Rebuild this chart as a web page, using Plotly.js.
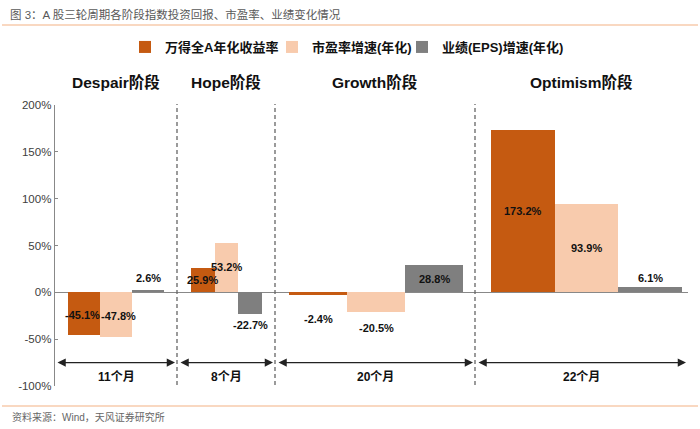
<!DOCTYPE html>
<html><head><meta charset="utf-8">
<script src="https://cdn.plot.ly/plotly-3.0.1.min.js"></script>
<style>html,body{margin:0;padding:0;background:#fff}</style>
</head><body><div id="chart" style="width:700px;height:429px"></div>
<script>
// ---------- data ----------
const phases = ['Despair阶段', 'Hope阶段', 'Growth阶段', 'Optimism阶段'];
const durations = ['11个月', '8个月', '20个月', '22个月'];
const seriesNames = ['万得全A年化收益率', '市盈率增速(年化)', '业绩(EPS)增速(年化)'];
const indexReturn = [-45.1, 25.9, -2.4, 173.2];
const peGrowth = [-47.8, 53.2, -20.5, 93.9];
const epsGrowth = [2.6, -22.7, 28.8, 6.1];
const yTickVals = [-100, -50, 0, 50, 100, 150, 200];
const yTickText = ['-100%', '-50%', '0%', '50%', '100%', '150%', '200%'];
const chartTitle = '图 3：A 股三轮周期各阶段指数投资回报、市盈率、业绩变化情况';
const sourceNote = '资料来源：Wind，天风证券研究所';

// ---------- layout / style ----------
const W = 700, H = 429, M = {l: 55, r: 12, t: 105, b: 43};
const bounds = [55, 177, 275, 475, 688];        // segment edges (x-axis units)
const groupCenter = [116, 226.5, 376, 586.5];
const barWidth = [32, 23.7, 58, 63.7];
const colors = ['#c55a11', '#f8cbad', '#7f7f7f'];
const labelAnchor = [['mid', 'mid', 'end', 'mid'], ['mid', 'mid', 'end', 'mid'], ['end', 'end', 'mid', 'end']];
const labelShift = [[-2, 0, -24.5, 0], [-1, 0, -16.5, 0], [12, -11.5, 0, 8.6]];
const labelXShift = [[-1.5, 0, 0, 0], [2, 0, 0, 0], [0, 0, 0, 0]];
const legendPx = [145, 292, 422];
const FONT = '"Liberation Sans", "Noto Sans CJK SC", Arial, sans-serif';

const pyToPaper = py => (H - M.b - py) / (H - M.t - M.b);
const pxToPaper = px => (px - M.l) / (W - M.l - M.r);

const series = [indexReturn, peGrowth, epsGrowth];
const legendIds = ['legend', 'legend2', 'legend3'];

const traces = series.map((vals, k) => ({
  type: 'bar',
  name: seriesNames[k],
  x: vals.map((v, i) => groupCenter[i] + (k - 1) * barWidth[i]),
  y: vals,
  width: barWidth,
  marker: {color: colors[k], line: {width: 0}},
  legend: legendIds[k],
  showlegend: true,
  hoverinfo: 'skip'
}));

const annotations = [];
// data labels
series.forEach((vals, k) => vals.forEach((v, i) => {
  annotations.push({
    x: groupCenter[i] + (k - 1) * barWidth[i], xref: 'x',
    y: labelAnchor[k][i] === 'mid' ? v / 2 : v, yref: 'y',
    yshift: labelShift[k][i], xshift: labelXShift[k][i],
    text: v.toFixed(1) + '%', showarrow: false,
    font: {family: FONT, size: 11, color: '#111', weight: 'bold'}
  });
}));
// phase titles, durations, arrows
phases.forEach((p, i) => {
  const cx = (bounds[i] + bounds[i + 1]) / 2;
  annotations.push({
    x: cx, xref: 'x', y: pyToPaper(82), yref: 'paper', yanchor: 'middle',
    text: p, showarrow: false,
    font: {family: FONT, size: 15.5, color: '#111', weight: 'bold'}
  });
  annotations.push({
    x: cx, xref: 'x', y: -90, yref: 'y', yanchor: 'middle',
    text: durations[i], showarrow: false,
    font: {family: FONT, size: 12, color: '#111', weight: 'bold'}
  });
  annotations.push({
    x: bounds[i + 1] - 2, y: -75, xref: 'x', yref: 'y',
    ax: bounds[i] + (i === 0 ? 1 : 2), ay: -75, axref: 'x', ayref: 'y',
    text: '', showarrow: true, arrowside: 'end+start',
    arrowhead: 2, startarrowhead: 2, arrowsize: 1.5, startarrowsize: 1.5,
    arrowwidth: 1.1, arrowcolor: '#222', standoff: 0, startstandoff: 0
  });
});
// source note
annotations.push({
  x: pxToPaper(10), xref: 'paper', xanchor: 'left',
  y: pyToPaper(417), yref: 'paper', yanchor: 'middle',
  text: sourceNote, showarrow: false,
  font: {family: FONT, size: 10, color: '#666'}
});

const shapes = [];
bounds.slice(1, 4).forEach(b => shapes.push({
  type: 'line', xref: 'x', x0: b, x1: b, yref: 'paper', y0: pyToPaper(385), y1: pyToPaper(104),
  line: {color: '#666', width: 1.3, dash: '4px,3px'}
}));
[25, 406].forEach(py => shapes.push({
  type: 'line', xref: 'paper', x0: pxToPaper(2), x1: pxToPaper(698), yref: 'paper',
  y0: pyToPaper(py), y1: pyToPaper(py), line: {color: '#f4b183', width: 1.2}
}));

const legendBase = {
  orientation: 'h', xanchor: 'left', yanchor: 'middle', y: pyToPaper(47),
  bgcolor: 'rgba(0,0,0,0)', font: {family: FONT, size: 13, color: '#111', weight: 'bold'}
};

const layout = {
  width: W, height: H, margin: M,
  paper_bgcolor: '#fff', plot_bgcolor: '#fff',
  barmode: 'overlay', bargap: 0,
  hovermode: false, showlegend: true,
  font: {family: FONT},
  title: {
    text: chartTitle, xref: 'container', x: 10 / W, xanchor: 'left',
    yref: 'container', y: 1 - 15 / H, yanchor: 'middle',
    font: {family: FONT, size: 11.5, color: '#595959'}
  },
  xaxis: {range: [bounds[0], bounds[4]], showticklabels: false, showgrid: false,
          zeroline: false, showline: false, ticks: '', fixedrange: true},
  yaxis: {range: [-100, 200], tickvals: yTickVals, ticktext: yTickText,
          ticks: 'inside', ticklen: 3, tickcolor: '#888', tickwidth: 1,
          showline: true, linecolor: '#888', linewidth: 1.3,
          zeroline: true, zerolinecolor: '#888', zerolinewidth: 1.5,
          showgrid: false, tickfont: {family: FONT, size: 11.5, color: '#404040'},
          fixedrange: true},
  legend: Object.assign({}, legendBase, {x: pxToPaper(legendPx[0] - 20)}),
  legend2: Object.assign({}, legendBase, {x: pxToPaper(legendPx[1] - 20)}),
  legend3: Object.assign({}, legendBase, {x: pxToPaper(legendPx[2] - 20)}),
  annotations: annotations,
  shapes: shapes
};

Plotly.newPlot('chart', traces, layout, {displayModeBar: false, staticPlot: true});
</script>
</body></html>
